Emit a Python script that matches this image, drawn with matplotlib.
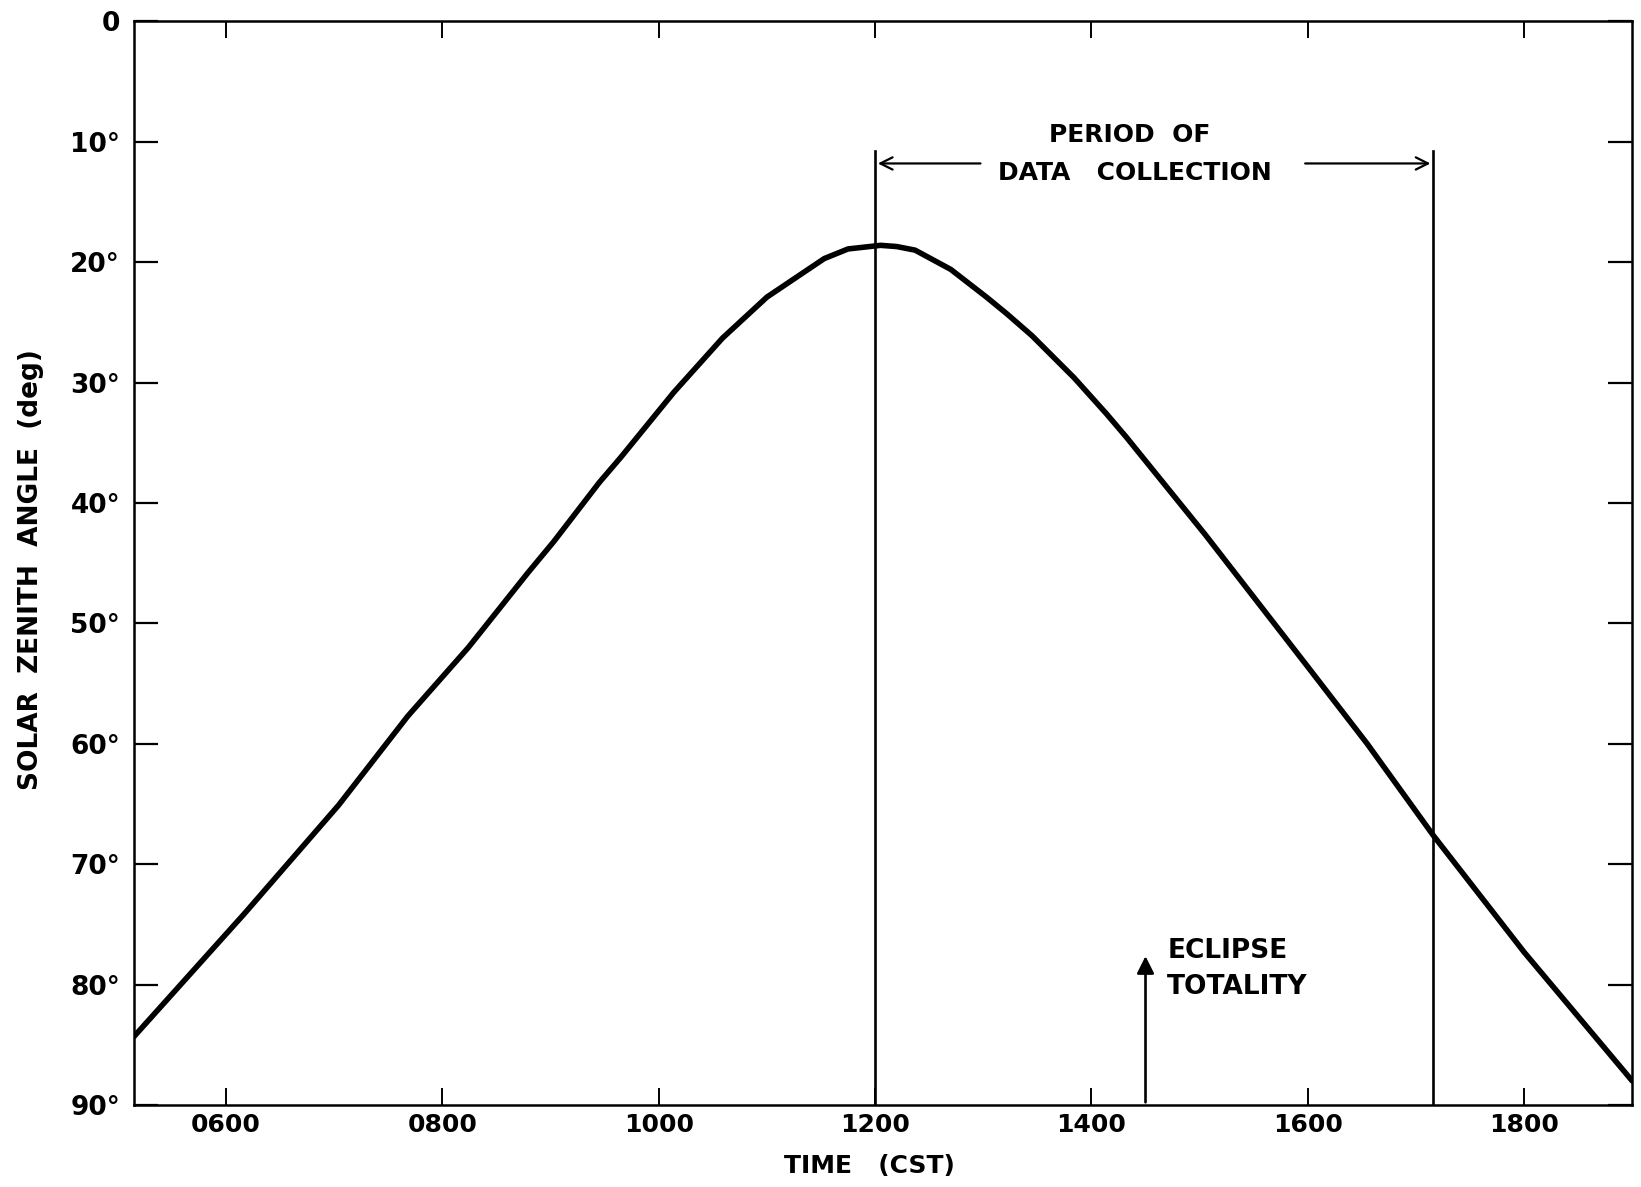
import matplotlib
matplotlib.use("Agg")
import matplotlib.pyplot as plt

# --- data ---
time_h = [5.15, 6.17, 7.04, 7.68, 8.24, 8.79, 9.03, 9.45, 9.65, 10.14, 10.59, 11.0,
          11.53, 11.75, 12.05, 12.2, 12.37, 12.70, 13.03, 13.22, 13.45, 13.84, 14.14,
          14.32, 15.05, 16.0, 16.55, 17.16, 18.0, 19.0]
zenith_deg = [84.3, 74.1, 65.1, 57.7, 52.0, 45.8, 43.2, 38.3, 36.2, 30.8, 26.3, 22.9,
              19.7, 18.9, 18.6, 18.7, 19.0, 20.6, 22.9, 24.3, 26.1, 29.6, 32.6,
              34.5, 42.6, 53.6, 60.0, 67.6, 77.3, 88.0]

x_ticks = [6, 8, 10, 12, 14, 16, 18]
x_tick_labels = ["0600", "0800", "1000", "1200", "1400", "1600", "1800"]
y_ticks = [0, 10, 20, 30, 40, 50, 60, 70, 80, 90]
y_tick_labels = ["0", "10°", "20°", "30°", "40°", "50°", "60°", "70°", "80°", "90°"]

data_start = 12.0
data_end = 17.16
data_top = 10.8
arrow_level = 11.8
eclipse_time = 14.5
eclipse_tip = 77.4

plt.rcParams['font.family'] = ['DejaVu Sans']

fig = plt.figure(figsize=(16.41, 11.87), dpi=100)
ax = fig.add_axes([0.0817, 0.069, 0.913, 0.913])

ax.plot(time_h, zenith_deg, color="black", lw=4.0, solid_capstyle="round",
        solid_joinstyle="round")

ax.set_xlim(5.15, 19.0)
ax.set_ylim(90, 0)

ax.plot([data_start, data_start], [90, data_top], color="black", lw=1.9)
ax.plot([data_end, data_end], [90, data_top], color="black", lw=1.9)

ax.annotate("", xy=(data_start, arrow_level), xytext=(13.0, arrow_level),
            arrowprops=dict(arrowstyle="->", lw=1.6, color="black", mutation_scale=22))
ax.annotate("", xy=(data_end, arrow_level), xytext=(15.95, arrow_level),
            arrowprops=dict(arrowstyle="->", lw=1.6, color="black", mutation_scale=22))
fw = "semibold"
ax.text(14.35, 9.4, "PERIOD  OF", ha="center", va="center", fontsize=18, fontweight=fw)
ax.text(14.4, 12.6, "DATA   COLLECTION", ha="center", va="center", fontsize=18, fontweight=fw)

ax.annotate("", xy=(eclipse_time, eclipse_tip), xytext=(eclipse_time, 90),
            arrowprops=dict(arrowstyle="-|>", lw=1.9, color="black", mutation_scale=26))
ax.text(eclipse_time + 0.2, 77.2, "ECLIPSE", ha="left", va="center", fontsize=19, fontweight=fw)
ax.text(eclipse_time + 0.2, 80.2, "TOTALITY", ha="left", va="center", fontsize=19, fontweight=fw)

ax.set_xticks(x_ticks)
ax.set_xticklabels(x_tick_labels, fontsize=18, fontweight=fw)
ax.set_yticks(y_ticks)
ax.set_yticklabels(y_tick_labels, fontsize=19, fontweight=fw)

ax.tick_params(axis="y", direction="in", length=17, width=1.6, left=True, right=True, pad=10)
ax.tick_params(axis="x", direction="in", length=12, width=1.4, top=True, bottom=True, pad=6)
for s in ax.spines.values():
    s.set_linewidth(1.8)

fig.text(0.019, 0.52, "SOLAR  ZENITH  ANGLE  (deg)", rotation=90, ha="center",
         va="center", fontsize=19, fontweight=fw)
fig.text(0.53, 0.018, "TIME   (CST)", ha="center", va="center", fontsize=18, fontweight=fw)

fig.savefig("out.png", dpi=100)
